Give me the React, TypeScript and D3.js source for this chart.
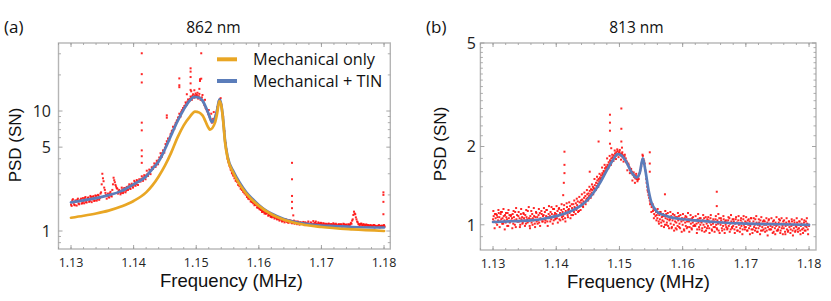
import React from "react";
import * as d3 from "d3";

const W = 831;
const H = 301;

const SANS = "'Open Sans', 'DejaVu Sans', sans-serif";
const ARIAL = "'Liberation Sans', Arial, sans-serif";

// ---------- Panel (a): 862 nm ----------
const startA = 1.13;
const stepA = 0.0002;
const psdA = [
  1.66, 1.80, 1.72, 1.64, 1.77,
  1.82, 1.70, 1.78, 1.86, 1.71,
  1.76, 1.88, 1.74, 1.84, 1.90,
  1.78, 1.92, 1.83, 1.95, 1.80,
  1.96, 1.84, 1.97, 1.88, 2.10,
  3.0, 2.6, 2.2, 2.0, 1.97,
  1.93, 2.06, 1.97, 2.2, 2.78,
  2.55, 2.35, 2.25, 2.15, 2.10,
  2.08, 2.22, 2.13, 2.27, 2.17,
  2.22, 2.36, 2.27, 2.41, 2.35,
  2.40, 2.55, 2.46, 2.60, 2.57,
  2.65, 2.70, 2.74, 2.80, 2.83,
  2.90, 2.98, 3.05, 3.15, 3.22,
  3.32, 3.45, 3.52, 3.65, 3.75,
  3.90, 4.05, 4.25, 4.45, 4.65,
  4.95, 5.2, 5.5, 5.8, 6.1,
  6.5, 6.9, 7.3, 7.6, 8.0,
  8.4, 8.9, 9.3, 9.8, 10.2,
  10.6, 11.1, 11.6, 12.0, 12.3,
  12.6, 13.0, 13.4, 13.2, 13.5,
  13.4, 13.1, 13.3, 12.9, 12.6,
  12.3, 11.8, 11.0, 10.4, 9.9,
  9.3, 8.8, 8.3, 8.2, 8.4,
  8.9, 9.6, 10.8, 12.0, 12.6,
  11.3, 9.5, 7.5, 5.7, 4.8,
  4.0, 3.7, 3.4, 3.2, 3.0,
  2.9, 2.8, 2.65, 2.55, 2.45,
  2.38, 2.3, 2.22, 2.15, 2.08,
  2.02, 1.96, 1.9, 1.86, 1.80,
  1.76, 1.74, 1.68, 1.66, 1.60,
  1.58, 1.55, 1.50, 1.48, 1.45,
  1.45, 1.41, 1.40, 1.36, 1.35,
  1.33, 1.36, 1.31, 1.30, 1.28,
  1.29, 1.25, 1.27, 1.24, 1.22,
  1.22, 1.24, 1.20, 1.19, 1.21,
  1.18, 1.20, 1.17, 1.22, 1.19,
  1.17, 1.20, 1.16, 1.18, 1.15,
  1.17, 1.15, 1.18, 1.14, 1.16,
  1.15, 1.13, 1.16, 1.14, 1.15,
  1.17, 1.15, 1.13, 1.16, 1.14,
  1.16, 1.13, 1.15, 1.12, 1.14,
  1.13, 1.15, 1.12, 1.14, 1.13,
  1.14, 1.12, 1.13, 1.11, 1.14,
  1.12, 1.13, 1.11, 1.14, 1.12,
  1.13, 1.11, 1.12, 1.14, 1.15,
  1.25, 1.45, 1.38, 1.25, 1.18,
  1.14, 1.13, 1.15, 1.12, 1.13,
  1.11, 1.13, 1.12, 1.10, 1.12,
  1.11, 1.10, 1.12, 1.11, 1.09,
  1.10, 1.12, 1.09, 1.11, 1.10,
  1.12,
];
// second, interleaved sweep (wider scatter)
const startA2 = 1.1301;
const stepA2 = 0.0002;
const psdA2 = [
  1.62, 1.84, 1.66, 1.80, 1.63,
  1.86, 1.67, 1.82, 1.69, 1.88,
  1.70, 1.92, 1.73, 1.89, 1.75,
  1.96, 1.74, 1.93, 1.78, 1.98,
  1.79, 2.00, 1.82, 2.05, 2.45,
  2.75, 2.3, 2.08, 1.86, 2.05,
  1.90, 2.12, 1.94, 2.45, 2.65,
  2.42, 2.28, 2.05, 2.20, 2.02,
  2.30, 2.07, 2.28, 2.10, 2.33,
  2.20, 2.45, 2.24, 2.48, 2.30,
  2.62, 2.38, 2.66, 2.42, 2.70,
  2.58, 2.86, 2.62, 2.92, 2.70,
  3.18, 2.88, 3.25, 2.98, 3.40,
  3.30, 3.66, 3.42, 3.85, 3.60,
  4.10, 4.45, 4.15, 4.70, 4.50,
  5.3, 5.6, 5.9, 5.7, 6.4,
  6.8, 7.4, 7.1, 7.9, 8.3,
  8.8, 9.5, 9.0, 10.1, 10.6,
  11.0, 11.8, 11.3, 12.5, 12.1,
  13.2, 12.4, 13.8, 12.9, 14.0,
  13.6, 12.7, 13.9, 12.4, 13.0,
  11.9, 11.2, 10.6, 10.1, 9.5,
  9.0, 8.5, 8.0, 8.6, 8.2,
  9.2, 9.9, 11.2, 12.3, 12.8,
  10.8, 9.0, 6.8, 5.4, 4.5,
  3.8, 3.5, 3.25, 3.05, 2.9,
  2.75, 2.62, 2.58, 2.42, 2.36,
  2.25, 2.20, 2.12, 2.06, 2.01,
  1.92, 1.86, 1.84, 1.76, 1.74,
  1.70, 1.64, 1.65, 1.57, 1.56,
  1.52, 1.50, 1.44, 1.45, 1.40,
  1.39, 1.42, 1.34, 1.37, 1.31,
  1.30, 1.34, 1.27, 1.31, 1.25,
  1.28, 1.22, 1.26, 1.20, 1.25,
  1.18, 1.25, 1.20, 1.17, 1.23,
  1.22, 1.16, 1.21, 1.15, 1.20,
  1.14, 1.19, 1.13, 1.18, 1.16,
  1.19, 1.12, 1.17, 1.13, 1.20,
  1.12, 1.18, 1.11, 1.21, 1.16,
  1.20, 1.14, 1.18, 1.12, 1.17,
  1.12, 1.16, 1.10, 1.15, 1.11,
  1.15, 1.10, 1.14, 1.11, 1.16,
  1.10, 1.15, 1.09, 1.13, 1.10,
  1.14, 1.09, 1.15, 1.10, 1.13,
  1.10, 1.14, 1.12, 1.17, 1.22,
  1.36, 1.40, 1.30, 1.20, 1.14,
  1.10, 1.15, 1.11, 1.14, 1.09,
  1.13, 1.09, 1.12, 1.08, 1.11,
  1.09, 1.12, 1.07, 1.10, 1.08,
  1.11, 1.07, 1.10, 1.08, 1.11,
  1.09,
];
const outlierFreqA = [
  1.1413, 1.1413, 1.1413, 1.1413, 1.1413, 1.1413, 1.1413, 1.1413,
  1.1508, 1.1508, 1.1506, 1.1506,
  1.1491, 1.1491, 1.1491, 1.1491, 1.1491,
  1.1473, 1.1473, 1.1473,
  1.1453, 1.1453,
  1.1485, 1.1492, 1.1497, 1.1502, 1.1505, 1.151, 1.1514, 1.152, 1.1524, 1.1528,
  1.1653, 1.1653, 1.1653, 1.1653, 1.1653, 1.1655,
  1.1799, 1.1799, 1.1799, 1.1799,
];
const outlierPsdA = [
  30.3, 20.3, 17.3, 8.0, 6.9, 4.7, 4.2, 3.7,
  30.3, 18.6, 18.4, 17.8,
  22.7, 21.3, 19.2, 17.0, 15.0,
  18.7, 16.4, 15.8,
  9.2, 8.8,
  13.8, 14.6, 14.9, 14.2, 15.3, 13.6, 12.4, 10.2, 9.5, 9.8,
  3.7, 2.7, 1.96, 1.75, 1.55, 1.35,
  2.1, 2.0, 1.75, 1.38,
];
const fitFreqA = [
  1.13, 1.132, 1.134, 1.136, 1.138, 1.14, 1.141, 1.142, 1.143, 1.144, 1.145,
  1.146, 1.147, 1.148, 1.149, 1.1497, 1.1505, 1.151, 1.152, 1.1525, 1.153,
  1.1533, 1.1537, 1.154, 1.1543, 1.1546, 1.155, 1.156, 1.157, 1.158, 1.159,
  1.16, 1.161, 1.162, 1.164, 1.166, 1.168, 1.17, 1.172, 1.175, 1.18,
];
const fitTinA = [
  1.73, 1.8, 1.88, 1.99, 2.15, 2.45, 2.62, 2.85, 3.3, 3.8, 4.8,
  6.3, 8.2, 10.3, 12.3, 13.1, 12.9, 12.2, 9.4, 8.1, 8.8,
  10.0, 12.5, 11.3, 8.5, 5.7, 4.2, 3.1, 2.5, 2.1, 1.85,
  1.65, 1.5, 1.4, 1.26, 1.18, 1.14, 1.11, 1.1, 1.08, 1.07,
];
const mechFreqA = [
  1.13, 1.132, 1.134, 1.136, 1.138, 1.14, 1.142, 1.143, 1.144, 1.145, 1.146, 1.147,
  1.148, 1.149, 1.1498, 1.1505, 1.151, 1.152, 1.1522, 1.153, 1.1533, 1.1537,
  1.154, 1.1543, 1.1546, 1.155, 1.156, 1.158, 1.16, 1.162, 1.164, 1.166,
  1.17, 1.175, 1.18,
];
const mechOnlyA = [
  1.29, 1.34, 1.40, 1.48, 1.60, 1.78, 2.1, 2.4, 2.85, 3.5, 4.5, 6.0,
  7.6, 9.0, 9.9, 9.7, 9.2, 7.2, 7.0, 8.0, 9.3, 12.1,
  11.1, 8.3, 5.5, 4.1, 3.0, 2.05, 1.62, 1.38, 1.24, 1.16,
  1.08, 1.03, 1.0,
];

// ---------- Panel (b): 813 nm ----------
const startB = 1.13;
const stepB = 0.0001;
const psdB = [
  1.05, 1.08, 1.03, 1.10, 1.06, 1.02, 1.09, 1.07, 1.04, 1.11,
  1.07, 1.03, 1.10, 1.05, 1.12, 1.06, 1.01, 1.08, 1.04, 1.09,
  1.02, 1.07, 1.05, 1.11, 0.99, 1.06, 1.09, 1.03, 1.08, 1.04,
  1.06, 1.10, 1.01, 1.07, 1.04, 1.12, 0.98, 1.05, 1.09, 1.03,
  1.08, 1.03, 1.06, 1.00, 1.10, 1.05, 1.07, 1.02, 1.11, 1.06,
  1.04, 1.09, 1.01, 1.07, 1.05, 1.13, 1.03, 1.06, 0.99, 1.08,
  1.05, 1.02, 1.10, 1.06, 1.04, 1.08, 1.01, 1.07, 1.12, 1.03,
  1.07, 1.04, 1.09, 1.02, 1.11, 1.06, 1.05, 1.10, 1.03, 1.08,
  1.09, 1.05, 1.12, 1.04, 1.08, 1.14, 1.03, 1.07, 1.10, 1.06,
  1.08, 1.12, 1.05, 1.10, 1.07, 1.15, 1.04, 1.09, 1.11, 1.06,
  1.10, 1.06, 1.13, 1.08, 1.15, 1.05, 1.11, 1.09, 1.14, 1.07,
  1.12, 1.08, 1.15, 1.10, 1.06, 1.13, 1.11, 1.17, 1.09, 1.14,
  1.15, 1.11, 1.18, 1.13, 1.09, 1.16, 1.14, 1.20, 1.12, 1.17,
  1.16, 1.21, 1.14, 1.19, 1.23, 1.17, 1.13, 1.22, 1.18, 1.24,
  1.21, 1.25, 1.18, 1.23, 1.27, 1.22, 1.29, 1.24, 1.26, 1.31,
  1.27, 1.32, 1.29, 1.35, 1.31, 1.37, 1.33, 1.36, 1.40, 1.38,
  1.38, 1.42, 1.37, 1.45, 1.41, 1.48, 1.44, 1.50, 1.47, 1.52,
  1.50, 1.55, 1.52, 1.58, 1.56, 1.61, 1.59, 1.65, 1.62, 1.67,
  1.65, 1.70, 1.68, 1.74, 1.71, 1.77, 1.75, 1.80, 1.76, 1.82,
  1.80, 1.85, 1.82, 1.88, 1.84, 1.90, 1.86, 1.92, 1.87, 1.89,
  1.91, 1.86, 1.88, 1.84, 1.87, 1.82, 1.85, 1.80, 1.83, 1.78,
  1.80, 1.76, 1.74, 1.71, 1.72, 1.67, 1.66, 1.62, 1.63, 1.59,
  1.60, 1.56, 1.57, 1.53, 1.55, 1.51, 1.54, 1.50, 1.52, 1.49,
  1.53, 1.56, 1.58, 1.62, 1.66, 1.72, 1.78, 1.84, 1.79, 1.76,
  1.72, 1.62, 1.55, 1.45, 1.40, 1.34, 1.30, 1.27, 1.24, 1.22,
  1.20, 1.17, 1.19, 1.13, 1.15, 1.10, 1.14, 1.08, 1.12, 1.09,
  1.06, 1.11, 1.03, 1.09, 1.05, 1.12, 1.02, 1.07, 1.04, 1.10,
  1.03, 1.08, 1.00, 1.06, 1.10, 1.02, 1.05, 0.99, 1.07, 1.04,
  1.05, 1.01, 1.08, 0.98, 1.04, 1.06, 1.00, 1.09, 1.03, 0.97,
  1.02, 1.07, 0.99, 1.04, 1.08, 1.01, 0.97, 1.05, 1.03, 1.06,
  1.00, 1.04, 0.96, 1.06, 1.02, 0.99, 1.07, 1.03, 0.98, 1.05,
  1.03, 0.98, 1.05, 1.01, 0.97, 1.06, 1.02, 0.99, 1.04, 1.00,
  0.99, 1.04, 1.01, 0.96, 1.05, 1.02, 0.98, 1.06, 1.00, 1.03,
  1.02, 0.97, 1.04, 1.00, 1.06, 0.98, 1.03, 0.95, 1.01, 1.05,
  0.99, 1.04, 0.97, 1.02, 1.06, 1.00, 0.96, 1.03, 1.01, 0.98,
  1.03, 0.98, 1.05, 1.00, 0.97, 1.04, 1.01, 0.95, 1.06, 1.02,
  1.00, 1.04, 0.97, 1.02, 0.99, 1.05, 0.96, 1.03, 1.00, 0.98,
  1.02, 0.97, 1.04, 0.99, 1.06, 1.01, 0.96, 1.03, 0.98, 1.05,
  0.99, 1.03, 0.96, 1.01, 1.05, 0.98, 1.02, 0.95, 1.04, 1.00,
  1.01, 0.97, 1.04, 0.99, 1.02, 0.96, 1.05, 1.00, 0.98, 1.03,
  0.98, 1.02, 0.95, 1.04, 1.00, 0.97, 1.03, 0.99, 1.06, 0.96,
  1.01, 0.96, 1.03, 0.98, 1.00, 1.05, 0.97, 1.02, 0.94, 1.00,
  0.97, 1.02, 0.99, 1.04, 0.95, 1.01, 0.98, 1.03, 0.96, 1.00,
  1.03, 0.97, 1.00, 0.95, 1.02, 0.98, 1.04, 0.96, 1.01, 0.99,
  0.96, 1.01, 0.98, 1.03, 0.94, 1.00, 0.97, 1.02, 0.99, 0.95,
  1.00, 0.96, 1.02, 0.98, 1.04, 0.95, 1.01, 0.97, 0.99, 1.03,
  0.97, 1.01, 0.94, 0.99, 1.02, 0.96, 1.00, 0.95, 1.03, 0.98,
  1.01, 0.96, 0.99, 1.03, 0.95, 1.00, 0.97, 1.02, 0.94, 0.99,
  0.98, 1.02, 0.96, 1.00, 0.97, 1.03, 0.95, 0.99, 1.01, 0.96,
  1.00, 0.97, 1.02, 0.95, 0.99, 1.03, 0.98, 1.01, 0.96, 1.00,
  0.99,
];
// second, interleaved sweep of the same spectrum (wider scatter)
const startB2 = 1.13005;
const stepB2 = 0.0002;
const psdB2 = [
  1.13, 0.97, 1.10, 1.00, 1.14,
  0.98, 1.12, 1.01, 1.15, 0.96,
  1.11, 0.99, 1.14, 1.02, 1.09,
  0.97, 1.13, 1.00, 1.16, 1.03,
  1.12, 0.98, 1.15, 1.01, 1.10,
  0.99, 1.14, 1.02, 1.17, 0.97,
  1.13, 1.00, 1.16, 0.98, 1.11,
  1.01, 1.15, 0.99, 1.13, 1.03,
  1.16, 1.02, 1.14, 0.99, 1.18,
  1.03, 1.17, 1.01, 1.15, 1.05,
  1.18, 1.02, 1.16, 1.04, 1.20,
  1.05, 1.19, 1.03, 1.21, 1.07,
  1.22, 1.06, 1.20, 1.09, 1.24,
  1.10, 1.26, 1.12, 1.28, 1.14,
  1.31, 1.17, 1.33, 1.20, 1.36,
  1.24, 1.40, 1.27, 1.43, 1.31,
  1.50, 1.36, 1.53, 1.40, 1.57,
  1.49, 1.66, 1.54, 1.70, 1.60,
  1.80, 1.65, 1.84, 1.70, 1.86,
  1.76, 1.93, 1.79, 1.95, 1.82,
  1.94, 1.78, 1.90, 1.75, 1.86,
  1.74, 1.62, 1.70, 1.58, 1.64,
  1.48, 1.59, 1.45, 1.57, 1.47,
  1.50, 1.61, 1.68, 1.86, 1.74,
  1.66, 1.50, 1.36, 1.32, 1.20,
  1.12, 1.20, 1.06, 1.15, 1.04,
  1.15, 1.01, 1.12, 0.99, 1.08,
  0.98, 1.13, 1.00, 1.11, 0.97,
  1.12, 0.97, 1.10, 0.95, 1.07,
  0.96, 1.11, 0.98, 1.09, 0.94,
  1.10, 0.95, 1.08, 0.97, 1.11,
  0.94, 1.09, 0.96, 1.07, 0.99,
  1.08, 0.93, 1.10, 0.96, 1.06,
  0.95, 1.09, 0.94, 1.07, 0.97,
  1.07, 0.93, 1.09, 0.95, 1.05,
  0.94, 1.08, 0.96, 1.10, 0.93,
  1.06, 0.95, 1.08, 0.93, 1.04,
  0.96, 1.07, 0.94, 1.09, 0.97,
  1.05, 0.93, 1.07, 0.95, 1.08,
  0.94, 1.06, 0.92, 1.08, 0.96,
  1.07, 0.95, 1.05, 0.92, 1.06,
  0.93, 1.06, 0.95, 1.08, 0.94,
  1.05, 0.92, 1.07, 0.95, 1.04,
  0.94, 1.06, 0.91, 1.05, 0.96,
  1.06, 0.93, 1.04, 0.92, 1.07,
  0.95, 1.05, 0.93, 1.06, 0.92,
  1.04, 0.92, 1.06, 0.94, 1.03,
  0.93, 1.05, 0.91, 1.04, 0.95,
  1.06, 0.94, 1.03, 0.92, 1.05,
  0.93, 1.04, 0.95, 1.06, 0.92,
];
const outlierFreqB = [
  1.1411, 1.1412, 1.1413, 1.1413, 1.1413, 1.1453, 1.1467,
  1.1485, 1.1485, 1.1485, 1.1485, 1.1487,
  1.1503, 1.1503, 1.1503, 1.1504,
  1.1548, 1.1548, 1.1548, 1.1572, 1.1654, 1.1654,
];
const outlierPsdB = [
  1.30, 1.45, 1.58, 1.70, 1.91, 1.60, 2.09,
  2.65, 2.47, 2.30, 2.05, 1.97,
  2.80, 2.34, 2.09, 1.98,
  1.90, 1.72, 1.60, 1.31, 1.34, 1.18,
];
const fitFreqB = [
  1.13, 1.133, 1.136, 1.138, 1.14, 1.142, 1.143, 1.144, 1.145, 1.146,
  1.147, 1.148, 1.149, 1.1497, 1.1503, 1.151, 1.152, 1.1527, 1.1532, 1.1537,
  1.1541, 1.1546, 1.155, 1.1555, 1.156, 1.157, 1.158, 1.16, 1.162, 1.165,
  1.17, 1.175, 1.18,
];
const fitTinB = [
  1.025, 1.032, 1.04, 1.055, 1.08, 1.12, 1.15, 1.19, 1.25, 1.34,
  1.46, 1.62, 1.78, 1.87, 1.85, 1.76, 1.58, 1.52, 1.58, 1.8,
  1.62, 1.36, 1.23, 1.16, 1.12, 1.09, 1.07, 1.05, 1.04, 1.025,
  1.01, 1.005, 1.0,
];

// ---------- Axes ----------
const xTickValues = [1.13, 1.14, 1.15, 1.16, 1.17, 1.18];
const xTickLabels = ["1.13", "1.14", "1.15", "1.16", "1.17", "1.18"];
const yTicksA = [1, 5, 10];
const yTickLabelsA = ["1", "5", "10"];
const yMinorA = [0.8, 0.9, 2, 3, 4, 6, 7, 8, 9, 20, 30];
const yTicksB = [1, 2, 5];
const yTickLabelsB = ["1", "2", "5"];
const yMinorB = [0.9, 1.2, 1.4, 1.6, 1.8, 2.2, 2.4, 2.6, 2.8, 3, 3.2, 3.4, 3.6, 3.8, 4, 4.2, 4.4, 4.6, 4.8];

const ORANGE = "#E9A624";
const BLUE = "#5B7DBA";
const RED = "#FF1010";

type Curve = { freq: number[]; vals: number[]; color: string };
type Sweep = { start: number; step: number; vals: number[] };

type PanelProps = {
  left: number; right: number; top: number; bottom: number;
  xDomain: [number, number]; yDomain: [number, number];
  sweeps: Sweep[];
  outFreq: number[]; outVals: number[];
  curves: Curve[];
  yTicks: number[]; yTickLabels: string[]; yMinor: number[];
  yLabelX: number; yTitleX: number; yTitleY: number;
  xLabelY: number; xTitleY: number; xTitleX: number;
  title: string; titleX: number; tag: string; tagX: number;
};

function Panel(p: PanelProps) {
  const x = d3.scaleLinear().domain(p.xDomain).range([p.left, p.right]);
  const y = d3.scaleLog().domain(p.yDomain).range([p.bottom, p.top]);
  const line = d3
    .line<[number, number]>()
    .x((d) => x(d[0]))
    .y((d) => y(d[1]))
    .curve(d3.curveMonotoneX);
  const xMinor = d3.range(1.128, 1.1805, 0.002);
  const tickColor = "#9a9a9a";
  const pts: [number, number][] = [];
  p.sweeps.forEach((s) => s.vals.forEach((v, i) => pts.push([s.start + i * s.step, v])));
  const outs = p.outFreq.map((f, i) => [f, p.outVals[i]] as [number, number]);
  const ps = 2;
  return (
    <g>
      <rect x={p.left} y={p.top} width={p.right - p.left} height={p.bottom - p.top}
        fill="none" stroke="#b5b5b5" strokeWidth={1.4} />
      {xMinor.map((v, i) => (
        <g key={"xm" + i}>
          <line x1={x(v)} x2={x(v)} y1={p.bottom} y2={p.bottom - 2} stroke={tickColor} strokeWidth={0.8} />
          <line x1={x(v)} x2={x(v)} y1={p.top} y2={p.top + 2} stroke={tickColor} strokeWidth={0.8} />
        </g>
      ))}
      {xTickValues.map((v, i) => (
        <g key={"xt" + i}>
          <line x1={x(v)} x2={x(v)} y1={p.bottom} y2={p.bottom - 4} stroke={tickColor} strokeWidth={0.9} />
          <line x1={x(v)} x2={x(v)} y1={p.top} y2={p.top + 4} stroke={tickColor} strokeWidth={0.9} />
          <text x={x(v)} y={p.xLabelY} textAnchor="middle" fontFamily={SANS} fontSize={12.5} fill="#222">
            {xTickLabels[i]}
          </text>
        </g>
      ))}
      {p.yMinor.map((v, i) => (
        <g key={"ym" + i}>
          <line x1={p.left} x2={p.left + 2.5} y1={y(v)} y2={y(v)} stroke={tickColor} strokeWidth={0.8} />
          <line x1={p.right} x2={p.right - 2.5} y1={y(v)} y2={y(v)} stroke={tickColor} strokeWidth={0.8} />
        </g>
      ))}
      {p.yTicks.map((v, i) => (
        <g key={"yt" + i}>
          <line x1={p.left} x2={p.left + 4} y1={y(v)} y2={y(v)} stroke={tickColor} strokeWidth={0.9} />
          <line x1={p.right} x2={p.right - 4} y1={y(v)} y2={y(v)} stroke={tickColor} strokeWidth={0.9} />
          <text x={p.yLabelX} y={y(v)} dy="0.36em" textAnchor="end" fontFamily={SANS} fontSize={16} fill="#222">
            {p.yTickLabels[i]}
          </text>
        </g>
      ))}
      {pts.map((d, i) => (
        <rect key={"p" + i} x={x(d[0]) - ps / 2} y={y(d[1]) - ps / 2} width={ps} height={ps} fill={RED} opacity={0.9} />
      ))}
      {outs.map((d, i) => (
        <rect key={"o" + i} x={x(d[0]) - ps / 2} y={y(d[1]) - ps / 2} width={ps} height={ps} fill={RED} opacity={0.9} />
      ))}
      {p.curves.map((c, i) => (
        <path key={"c" + i}
          d={line(c.freq.map((f, j) => [f, c.vals[j]] as [number, number])) || ""}
          fill="none" stroke={c.color} strokeWidth={2.7} strokeLinejoin="round" strokeLinecap="round" />
      ))}
      <text x={p.titleX} y={33} textAnchor="middle" fontFamily={SANS} fontSize={15.5} fill="#111">{p.title}</text>
      <text x={p.tagX} y={33} fontFamily={SANS} fontSize={17} fill="#111">{p.tag}</text>
      <text x={p.xTitleX} y={p.xTitleY} textAnchor="middle" fontFamily={ARIAL} fontSize={18.5} fill="#111">
        Frequency (MHz)
      </text>
      <text transform={`translate(${p.yTitleX},${p.yTitleY}) rotate(-90)`} textAnchor="middle"
        dy="0.35em" fontFamily={ARIAL} fontSize={17} fill="#111">
        PSD (SN)
      </text>
    </g>
  );
}

export default function App() {
  return (
    <svg width={W} height={H} viewBox={`0 0 ${W} ${H}`}
      style={{ position: "absolute", left: 0, top: 0, display: "block", background: "#fff" }}>
      <rect width={W} height={H} fill="#fff" />
      <Panel
        left={58.5} right={390.3} top={43} bottom={249}
        xDomain={[1.128, 1.181]} yDomain={[0.708, 36.9]}
        sweeps={[
          { start: startA, step: stepA, vals: psdA },
          { start: startA2, step: stepA2, vals: psdA2 },
        ]}
        outFreq={outlierFreqA} outVals={outlierPsdA}
        curves={[
          { freq: fitFreqA, vals: fitTinA, color: BLUE },
          { freq: mechFreqA, vals: mechOnlyA, color: ORANGE },
        ]}
        yTicks={yTicksA} yTickLabels={yTickLabelsA} yMinor={yMinorA}
        yLabelX={51} yTitleX={15} yTitleY={145}
        xLabelY={266.7} xTitleY={286.7} xTitleX={231.5}
        title="862 nm" titleX={213.5} tag="(a)" tagX={4}
      />
      <Panel
        left={480.4} right={816} top={43} bottom={250}
        xDomain={[1.128, 1.1811]} yDomain={[0.8, 5]}
        sweeps={[
          { start: startB, step: stepB, vals: psdB },
          { start: startB2, step: stepB2, vals: psdB2 },
        ]}
        outFreq={outlierFreqB} outVals={outlierPsdB}
        curves={[{ freq: fitFreqB, vals: fitTinB, color: BLUE }]}
        yTicks={yTicksB} yTickLabels={yTickLabelsB} yMinor={yMinorB}
        yLabelX={476} yTitleX={440} yTitleY={144}
        xLabelY={268} xTitleY={288.3} xTitleX={638.5}
        title="813 nm" titleX={636.5} tag="(b)" tagX={426}
      />
      <line x1={217} x2={237} y1={59.3} y2={59.3} stroke={ORANGE} strokeWidth={4} />
      <text x={253} y={65} fontFamily={SANS} fontSize={16.3} fill="#111">Mechanical only</text>
      <line x1={217} x2={237} y1={81} y2={81} stroke={BLUE} strokeWidth={4} />
      <text x={253} y={86.5} fontFamily={SANS} fontSize={16.3} fill="#111">Mechanical + TIN</text>
    </svg>
  );
}
